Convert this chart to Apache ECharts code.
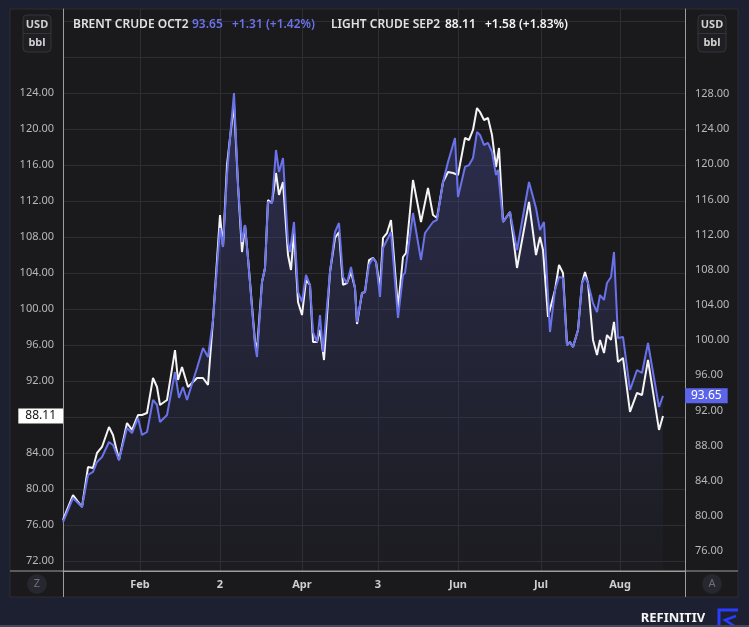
<!DOCTYPE html>
<html>
<head>
<meta charset="utf-8">
<script src="https://cdn.jsdelivr.net/npm/echarts@6/dist/echarts.min.js"></script>
<style>
  html, body { margin: 0; padding: 0; background: #1d2030; }
  #chart { width: 749px; height: 627px; }
</style>
</head>
<body>
<div id="chart"></div>
<script>
// x = trading-day position from the left edge of the plot, y = USD/bbl
const lightDay = [0, 2.5, 4.75, 6.25, 7.5, 8.5, 9.75, 11.5, 12.5, 14, 16, 17.25, 18.75, 19.75, 21, 22.5, 23.5, 24.25, 26, 28,
  28.75, 29.75, 31.25, 33.5, 35, 36.25, 37.5, 39.25, 40, 41, 41.75, 42.75, 43.75, 44.75, 45.5, 46.25, 48, 48.5, 49.75, 50.5,
  51.25, 52.25, 53.25, 54, 55, 56.25, 57, 57.75, 58.75, 59.75, 60.75, 61.75, 62.5, 63.5, 64.25, 65.25, 66.75, 68, 69, 70,
  71, 72, 73, 73.5, 74.75, 75.5, 76.5, 77.5, 78.25, 79.25, 80, 81, 82, 83.75, 85, 85.75, 87.5, 89.5, 91.25, 92.5,
  93.5, 95, 96.25, 97.5, 98.75, 100.5, 101.5, 102.5, 103.5, 104.25, 105.25, 106.25, 107.25, 108.25, 109, 110, 111.75, 113.5, 116.5, 118.25,
  119.25, 120, 121.25, 123, 124, 125, 126, 126.75, 127.5, 128.75, 129.75, 130.5, 131.25, 132.5, 133.5, 134.25, 135.25, 136, 137, 137.75,
  138.75, 140, 141.75, 143.5, 144.75, 146.25, 149, 150];
const lightPrice = [76.56, 79.33, 78.0, 82.44, 82.33, 84.0, 84.67, 86.89, 86.0, 83.22, 87.33, 86.56, 88.22, 88.22, 88.44, 92.33, 91.33, 89.33, 89.89, 95.44,
  92.11, 93.56, 91.33, 92.33, 92.33, 91.56, 98.78, 110.44, 106.89, 116.0, 119.0, 122.8, 113.78, 106.33, 109.33, 105.67, 96.33, 95.44, 103.0, 104.56,
  112.11, 111.78, 115.11, 112.67, 114.11, 106.0, 104.33, 108.56, 100.78, 99.33, 103.22, 102.67, 96.33, 96.33, 97.67, 94.33, 104.11, 107.89, 108.56, 102.67,
  102.89, 104.11, 102.33, 98.33, 101.78, 101.89, 105.44, 105.67, 105.22, 102.33, 107.89, 108.44, 109.89, 100.11, 105.78, 106.22, 114.33, 109.67, 113.44, 110.44,
  110.11, 114.11, 115.22, 115.11, 114.89, 119.0, 118.78, 119.89, 122.33, 121.89, 121.0, 121.22, 119.33, 115.78, 117.89, 109.67, 110.78, 104.56, 111.89, 106.0,
  108.0, 106.56, 99.11, 102.11, 104.89, 104.0, 96.0, 96.33, 95.78, 97.67, 102.89, 104.11, 102.89, 96.56, 94.89, 96.56, 95.11, 97.11, 96.56, 98.56,
  94.11, 94.56, 88.56, 90.67, 90.44, 94.33, 86.56, 88.11];

const brentDay = [0, 2.5, 4.75, 6.25, 7.5, 8.5, 9.75, 11.5, 12.5, 14, 16, 17.25, 18.75, 19.75, 21, 22.5, 23.5, 24.25, 26, 28,
  29, 30, 31, 33.5, 35, 36.25, 37.5, 39.25, 40, 41, 41.75, 42.75, 43.75, 44.75, 45.5, 46.25, 48, 48.5, 49.75, 50.5,
  51.25, 52.25, 53.25, 54, 55, 56.25, 56.75, 57.75, 58.75, 59.75, 60.75, 61.75, 62.5, 63.5, 64.25, 65, 66.75, 68, 69, 70,
  71, 72, 73, 73.5, 74.75, 75.5, 76.5, 77.5, 78.25, 79.25, 80, 81, 82, 83.75, 85, 85.5, 87.5, 89.5, 90.5, 92.5,
  93.5, 95, 96.25, 98, 98.75, 100.5, 101.5, 102.5, 103.5, 104.25, 105.25, 106.25, 107.25, 108.25, 108.75, 110, 111.75, 113.5, 116.5, 118.25,
  119.25, 120.25, 121.75, 123, 124, 125, 126, 126.75, 127.5, 128.75, 129.75, 130.5, 131.25, 132.5, 133.5, 134.25, 135.25, 136, 137, 137.75,
  138.75, 140, 141.75, 143.5, 144.75, 146.25, 149, 150];
const brentPrice = [79.3, 82.03, 81.01, 84.65, 84.99, 86.13, 86.69, 88.4, 88.06, 86.35, 89.99, 89.42, 91.13, 89.2, 89.54, 93.18, 92.61, 90.68, 91.47, 96.36,
  93.41, 94.66, 93.18, 96.82, 99.09, 98.07, 102.28, 112.75, 110.58, 118.78, 122.99, 128.1, 117.64, 111.15, 113.09, 109.33, 99.44, 98.07, 106.6, 108.2,
  115.7, 115.59, 121.62, 119.12, 120.71, 111.15, 110.02, 113.43, 105.47, 104.33, 107.4, 106.26, 100.91, 99.78, 102.85, 98.64, 107.74, 112.29, 113.32, 107.17,
  106.49, 108.31, 105.92, 102.05, 105.35, 105.47, 108.54, 109.33, 108.88, 104.9, 110.47, 111.38, 112.29, 102.51, 107.4, 107.63, 114.45, 109.11, 112.18, 113.43,
  113.66, 117.98, 120.25, 122.99, 116.27, 119.69, 119.91, 120.71, 123.67, 123.33, 122.19, 122.42, 121.39, 118.78, 119.35, 113.43, 114.57, 110.24, 117.98, 115.02,
  112.52, 113.43, 100.91, 105.69, 107.17, 107.06, 99.44, 99.78, 99.21, 101.14, 106.49, 107.17, 106.49, 104.21, 103.19, 105.12, 104.56, 106.49, 107.17, 110.02,
  100.23, 100.35, 94.32, 96.59, 96.25, 99.66, 92.38, 93.65];

const monthTicks = [19.25, 39.25, 59.75, 78.75, 98.75, 119.5, 139.25];
const monthLabels = ['Feb', '2', 'Apr', '3', 'Jun', 'Jul', 'Aug'];
const leftGridTicks = [72, 76, 80, 84, 88, 92, 96, 100, 104, 108, 112, 116, 120, 124, 128, 132];
const leftLabelTicks = [72, 76, 80, 84, 88, 92, 96, 100, 104, 108, 112, 116, 120, 124];
const rightLabelTicks = [76, 80, 84, 88, 92, 96, 100, 104, 108, 112, 116, 120, 124, 128];

const brentName = 'BRENT CRUDE OCT2', brentLast = 93.65, brentChange = '+1.31 (+1.42%)';
const lightName = 'LIGHT CRUDE SEP2', lightLast = 88.11, lightChange = '+1.58 (+1.83%)';

const BLUE = '#6a72ea';
const WHITE = '#f4f4f4';
const GRID = '#2d2d33';
const AXIS = '#9c9c9c';
const FONT = '"Noto Sans", sans-serif';

const zip = (xs, ys) => xs.map((x, i) => [x, ys[i]]);

const chart = echarts.init(document.getElementById('chart'), null, { renderer: 'canvas' });

const hdr = (text, x, color) => ({
  type: 'text', z: 5,
  style: { text, x, y: 25, fill: color, font: `600 12px ${FONT}`, verticalAlign: 'middle' }
});
const unitBox = (cx) => [
  { type: 'rect', z: 5, shape: { x: cx - 14, y: 15, width: 28, height: 37, r: 4 }, style: { fill: '#1f1f23', stroke: '#34343a', lineWidth: 1 } },
  { type: 'line', z: 5, shape: { x1: cx - 14, y1: 33.5, x2: cx + 14, y2: 33.5 }, style: { stroke: '#34343a', lineWidth: 1 } },
  { type: 'text', z: 6, style: { text: 'USD', x: cx, y: 25, fill: '#d0d0d0', font: `bold 11px ${FONT}`, align: 'center', verticalAlign: 'middle' } },
  { type: 'text', z: 6, style: { text: 'bbl', x: cx, y: 43, fill: '#d0d0d0', font: `bold 11px ${FONT}`, align: 'center', verticalAlign: 'middle' } }
];
const roundBtn = (cx, letter) => [
  { type: 'circle', z: 5, shape: { cx, cy: 584, r: 10 }, style: { fill: '#26272f' } },
  { type: 'text', z: 6, style: { text: letter, x: cx, y: 584, fill: '#70707a', font: `11px ${FONT}`, align: 'center', verticalAlign: 'middle' } }
];
const priceTag = (value, pos, bg, fg, pad) => ({
  silent: true, symbol: 'none', lineStyle: { width: 0, color: 'rgba(0,0,0,0)' },
  label: { show: true, position: pos, distance: 0, formatter: value.toFixed(2), backgroundColor: bg, color: fg, fontSize: 12, padding: pad },
  emphasis: { disabled: true },
  data: [{ yAxis: value }]
});

chart.setOption({
  backgroundColor: '#1d2030',
  animation: false,
  textStyle: { fontFamily: FONT },
  grid: { left: 63, right: 64, top: 9, bottom: 56 },
  xAxis: {
    type: 'value', min: 0, max: 155.5,
    axisLine: { show: true, onZero: false, lineStyle: { color: AXIS } },
    axisTick: { show: false, customValues: monthTicks },
    axisLabel: {
      customValues: monthTicks, color: '#cfcfcf', fontWeight: 'bold', fontSize: 11, margin: 8,
      formatter: v => monthLabels[monthTicks.indexOf(v)] || ''
    },
    splitLine: { show: true, lineStyle: { color: GRID } }
  },
  yAxis: [
    {
      type: 'value', position: 'left', min: 72 - 10 / 9, max: 72 + 552 / 9,
      axisLine: { show: true, lineStyle: { color: AXIS } },
      axisTick: { show: false, customValues: leftGridTicks },
      axisLabel: { customValues: leftLabelTicks, color: '#b8b8b8', fontSize: 11, margin: 9, formatter: v => v.toFixed(2) },
      splitLine: { show: true, lineStyle: { color: GRID } }
    },
    {
      type: 'value', position: 'right', min: 76 - 20 / 8.79, max: 76 + 542 / 8.79,
      axisLine: { show: true, lineStyle: { color: AXIS } },
      axisTick: { show: false },
      axisLabel: { customValues: rightLabelTicks, color: '#b8b8b8', fontSize: 11, margin: 10, formatter: v => v.toFixed(2) },
      splitLine: { show: false }
    }
  ],
  series: [
    {
      // area under Brent, drawn first so both lines sit on top of it
      name: brentName + ' area', type: 'line', yAxisIndex: 1, showSymbol: false, z: 1,
      data: zip(brentDay, brentPrice),
      lineStyle: { width: 0 },
      areaStyle: {
        color: new echarts.graphic.LinearGradient(0, 0, 0, 1, [
          { offset: 0, color: 'rgba(80,86,180,0.5)' },
          { offset: 0.6, color: 'rgba(66,70,140,0.3)' },
          { offset: 1, color: 'rgba(60,64,120,0.08)' }
        ])
      }
    },
    {
      name: lightName, type: 'line', yAxisIndex: 0, showSymbol: false, z: 2,
      data: zip(lightDay, lightPrice),
      lineStyle: { color: WHITE, width: 2 },
      markLine: priceTag(lightLast, 'start', '#ffffff', '#111', [2, 7, 1, 7])
    },
    {
      name: brentName, type: 'line', yAxisIndex: 1, showSymbol: false, z: 3,
      data: zip(brentDay, brentPrice),
      lineStyle: { color: BLUE, width: 2 },
      markLine: priceTag(brentLast, 'end', '#5c64ea', '#fff', [2, 6, 1, 6])
    }
  ],
  graphic: [
    { type: 'rect', z: -1, shape: { x: 10, y: 9, width: 728, height: 588 }, style: { fill: '#1a1a1c', stroke: '#2c2c33', lineWidth: 1 } },
    { type: 'line', z: 4, shape: { x1: 10, y1: 571, x2: 738, y2: 571 }, style: { stroke: AXIS, lineWidth: 1 } },
    { type: 'line', z: 4, shape: { x1: 63.5, y1: 571, x2: 63.5, y2: 597 }, style: { stroke: AXIS, lineWidth: 1 } },
    { type: 'line', z: 4, shape: { x1: 685.5, y1: 571, x2: 685.5, y2: 597 }, style: { stroke: AXIS, lineWidth: 1 } },
    hdr(brentName, 73, '#e2e2e2'),
    hdr(brentLast.toFixed(2), 192, BLUE),
    hdr(brentChange, 232, BLUE),
    hdr(lightName, 331, '#e2e2e2'),
    hdr(lightLast.toFixed(2), 445, '#f4f4f4'),
    hdr(lightChange, 485, '#f4f4f4'),
    ...unitBox(37),
    ...unitBox(712),
    ...roundBtn(37, 'Z'),
    ...roundBtn(712, 'A'),
    { type: 'text', z: 5, style: { text: 'REFINITIV', x: 673, y: 618, fill: '#f5f5f5', font: `bold 13px ${FONT}`, align: 'center', verticalAlign: 'middle' } },
    { type: 'polyline', z: 5, shape: { points: [[719, 627], [719, 610], [738, 610]] }, style: { stroke: '#2a3cff', lineWidth: 3, fill: null } },
    { type: 'polyline', z: 5, shape: { points: [[736, 616], [725, 620], [736, 627]] }, style: { stroke: '#2a3cff', lineWidth: 2.5, fill: null } },
    { type: 'rect', z: 5, shape: { x: 0, y: 625, width: 749, height: 2 }, style: { fill: '#454856' } }
  ]
});
</script>
</body>
</html>
